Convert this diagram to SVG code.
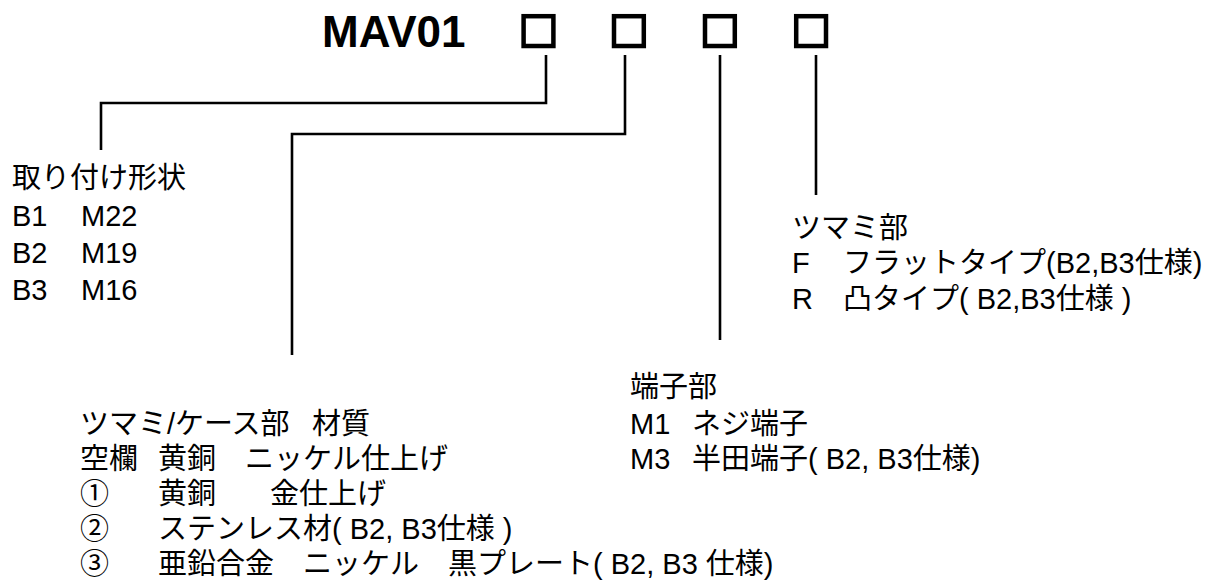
<svg xmlns="http://www.w3.org/2000/svg" width="1225" height="582" viewBox="0 0 1225 582">
<style>
.t{font-family:"Liberation Sans","Noto Sans CJK JP",sans-serif;font-size:29px;fill:#000}
.title{font-family:"Liberation Sans",Arial,sans-serif;font-size:44px;font-weight:bold;fill:#000}
.box{fill:none;stroke:#000;stroke-width:4.5}
.ln{fill:none;stroke:#000;stroke-width:2.6}
</style>
<rect width="1225" height="582" fill="#fff"/>
<g id="title">
<text class="title" x="322" y="47">MAV01</text>
<rect class="box" x="523.6" y="16.2" width="29.8" height="29.8"/>
<rect class="box" x="614" y="16.2" width="29.8" height="29.8"/>
<rect class="box" x="705" y="16.2" width="29.8" height="29.8"/>
<rect class="box" x="796.2" y="16.2" width="29.8" height="29.8"/>
</g>
<g id="connectors">
<path class="ln" d="M546,55 V103 H101 V150"/>
<path class="ln" d="M625,55 V134 H292 V355"/>
<path class="ln" d="M720,55 V340"/>
<path class="ln" d="M816,55 V195"/>
</g>
<g id="mount">
<text class="t" x="12" y="188">取り付け形状</text>
<text class="t" y="226"><tspan x="12">B1</tspan><tspan x="81">M22</tspan></text>
<text class="t" y="263"><tspan x="12">B2</tspan><tspan x="81">M19</tspan></text>
<text class="t" y="300"><tspan x="12">B3</tspan><tspan x="81">M16</tspan></text>
</g>
<g id="knob">
<text class="t" x="792" y="238">ツマミ部</text>
<text class="t" y="273"><tspan x="792">F</tspan><tspan x="843">フラットタイプ(B2,B3仕様)</tspan></text>
<text class="t" y="309"><tspan x="792">R</tspan><tspan x="843">凸タイプ( B2,B3仕様 )</tspan></text>
</g>
<g id="terminal">
<text class="t" x="630" y="397">端子部</text>
<text class="t" y="434"><tspan x="630">M1</tspan><tspan x="692">ネジ端子</tspan></text>
<text class="t" y="469"><tspan x="630">M3</tspan><tspan x="692">半田端子( B2, B3仕様)</tspan></text>
</g>
<g id="material">
<text class="t" y="434"><tspan x="80">ツマミ/ケース部</tspan><tspan x="312">材質</tspan></text>
<text class="t" y="469"><tspan x="80">空欄</tspan><tspan x="158">黄銅</tspan><tspan x="245">ニッケル仕上げ</tspan></text>
<text class="t" y="504"><tspan x="80">①</tspan><tspan x="158">黄銅</tspan><tspan x="270">金仕上げ</tspan></text>
<text class="t" y="539"><tspan x="80">②</tspan><tspan x="158">ステンレス材( B2, B3仕様 )</tspan></text>
<text class="t" y="574"><tspan x="80">③</tspan><tspan x="158">亜鉛合金　ニッケル　黒プレート( B2, B3 仕様)</tspan></text>
</g>
</svg>
